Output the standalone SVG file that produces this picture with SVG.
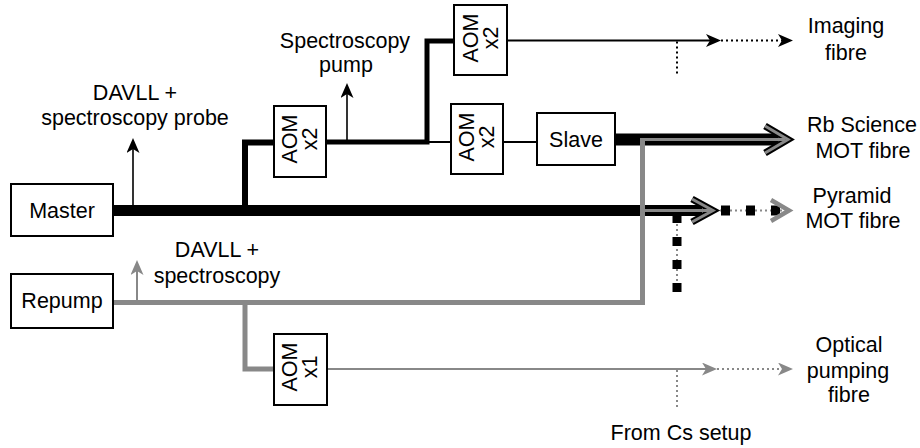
<svg xmlns="http://www.w3.org/2000/svg" width="920" height="448" viewBox="0 0 920 448">
<style>
text{font-family:"Liberation Sans",Arial,Helvetica,sans-serif;font-size:21.5px;fill:#000;text-anchor:middle}
.box{fill:#fff;stroke:#000;stroke-width:2}
.k{fill:none;stroke:#000;stroke-linejoin:miter;stroke-linecap:butt}
.g{fill:none;stroke:#888;stroke-linejoin:miter;stroke-linecap:butt}
.dotk{fill:none;stroke:#000;stroke-width:2;stroke-dasharray:2 3}
.dotg{fill:none;stroke:#888;stroke-width:2;stroke-dasharray:2 3}
</style>
<defs>
<marker id="ahK" viewBox="0 0 15 13" refX="12" refY="6.5" markerWidth="15" markerHeight="13" markerUnits="userSpaceOnUse" orient="auto"><path d="M0,0 L15,6.5 L0,13 L4,6.5 z" fill="#000"/></marker>
<marker id="ahG" viewBox="0 0 15 13" refX="12" refY="6.5" markerWidth="15" markerHeight="13" markerUnits="userSpaceOnUse" orient="auto"><path d="M0,0 L15,6.5 L0,13 L4,6.5 z" fill="#888"/></marker>
</defs>

<g id="connectors">
  <!-- master beam -->
  <path class="k" stroke-width="11" d="M113,210.5 H702"/>
  <path class="k" stroke-width="1.6" d="M133,210 V141" marker-end="url(#ahK)"/>
  <path class="k" stroke-width="6" d="M245,213 V142.5 H274"/>
  <!-- AOM1 out -->
  <path class="k" stroke-width="5" d="M326,142 H427 V41 H454"/>
  <path class="k" stroke-width="2" d="M427,142 H451"/>
  <path class="k" stroke-width="1.6" d="M347,142 V86" marker-end="url(#ahK)"/>
  <!-- AOM2 out: imaging -->
  <path class="k" stroke-width="2" d="M507,40.5 H718" marker-end="url(#ahK)"/>
  <path class="dotk" d="M721,40.5 H790" marker-end="url(#ahK)"/>
  <path class="dotk" d="M677,41.5 V76"/>
  <!-- AOM3 to slave -->
  <path class="k" stroke-width="2" d="M503,142 H537"/>
  <!-- slave out: Rb science -->
  <path class="k" stroke-width="12" d="M615,139.5 H778"/>
  <polyline class="k" stroke-width="7" points="765,126 788,139.5 765,153"/>
  <!-- repump -->
  <path class="g" stroke-width="5" d="M113,302.5 H642.5 V139.5"/>
  <path class="g" stroke-width="3" d="M640,139.5 H785"/>
  <polyline class="g" stroke-width="3" points="765,126 788,139.5 765,153"/>
  <path class="g" stroke-width="2" d="M137,302 V263" marker-end="url(#ahG)"/>
  <path class="g" stroke-width="5" d="M245,302.5 V369 H274"/>
  <!-- pyramid -->
  <polyline class="k" stroke-width="7" points="692,199 713,210.5 692,222"/>
  <path class="g" stroke-width="3" d="M642.5,210.5 H710"/>
  <polyline class="g" stroke-width="3" points="692,199 713,210.5 692,222"/>
  <path class="dotg" d="M720,210.5 H786"/>
  <path class="k" stroke-width="10" stroke-dasharray="9 16" d="M721,210.5 H782"/>
  <polyline class="g" stroke-width="4.5" points="771,200 789,210.5 771,221"/>
  <path class="dotg" d="M677,214 V292"/>
  <path class="k" stroke-width="9" stroke-dasharray="9 14" d="M677,214 V292"/>
  <!-- AOM4 out: optical pumping -->
  <path class="g" stroke-width="2" d="M327,369 H714" marker-end="url(#ahG)"/>
  <path class="dotg" d="M717,369 H790" marker-end="url(#ahG)"/>
  <path class="dotg" d="M677,370 V410"/>
</g>

<g id="master"><rect class="box" x="11" y="184" width="102" height="52"/><text x="62" y="218">Master</text></g>
<g id="repump"><rect class="box" x="11" y="274" width="102" height="54"/><text x="62" y="308">Repump</text></g>
<g id="slave"><rect class="box" x="537" y="113" width="78" height="52"/><text x="576" y="147">Slave</text></g>
<g id="aom1"><rect class="box" x="274" y="106" width="52" height="71"/>
  <text transform="translate(297,139) rotate(-90)">AOM</text><text transform="translate(317,139) rotate(-90)">x2</text></g>
<g id="aom2"><rect class="box" x="454" y="5" width="53" height="70"/>
  <text transform="translate(478,38) rotate(-90)">AOM</text><text transform="translate(498,38) rotate(-90)">x2</text></g>
<g id="aom3"><rect class="box" x="451" y="104" width="52" height="70"/>
  <text transform="translate(474,137) rotate(-90)">AOM</text><text transform="translate(494,137) rotate(-90)">x2</text></g>
<g id="aom4"><rect class="box" x="274" y="334" width="53" height="71"/>
  <text transform="translate(297,367) rotate(-90)">AOM</text><text transform="translate(317,367) rotate(-90)">x1</text></g>

<g id="labels">
  <text x="135" y="100">DAVLL +</text><text x="135" y="125">spectroscopy probe</text>
  <text x="345" y="48">Spectroscopy</text><text x="346" y="72">pump</text>
  <text x="846" y="33">Imaging</text><text x="846" y="60">fibre</text>
  <text x="862" y="132">Rb Science</text><text x="863" y="158">MOT fibre</text>
  <text x="852" y="203">Pyramid</text><text x="853" y="228">MOT fibre</text>
  <text x="217" y="257">DAVLL +</text><text x="217" y="283">spectroscopy</text>
  <text x="849" y="352">Optical</text><text x="848" y="378">pumping</text><text x="849" y="402">fibre</text>
  <text x="681" y="440">From Cs setup</text>
</g>
</svg>
